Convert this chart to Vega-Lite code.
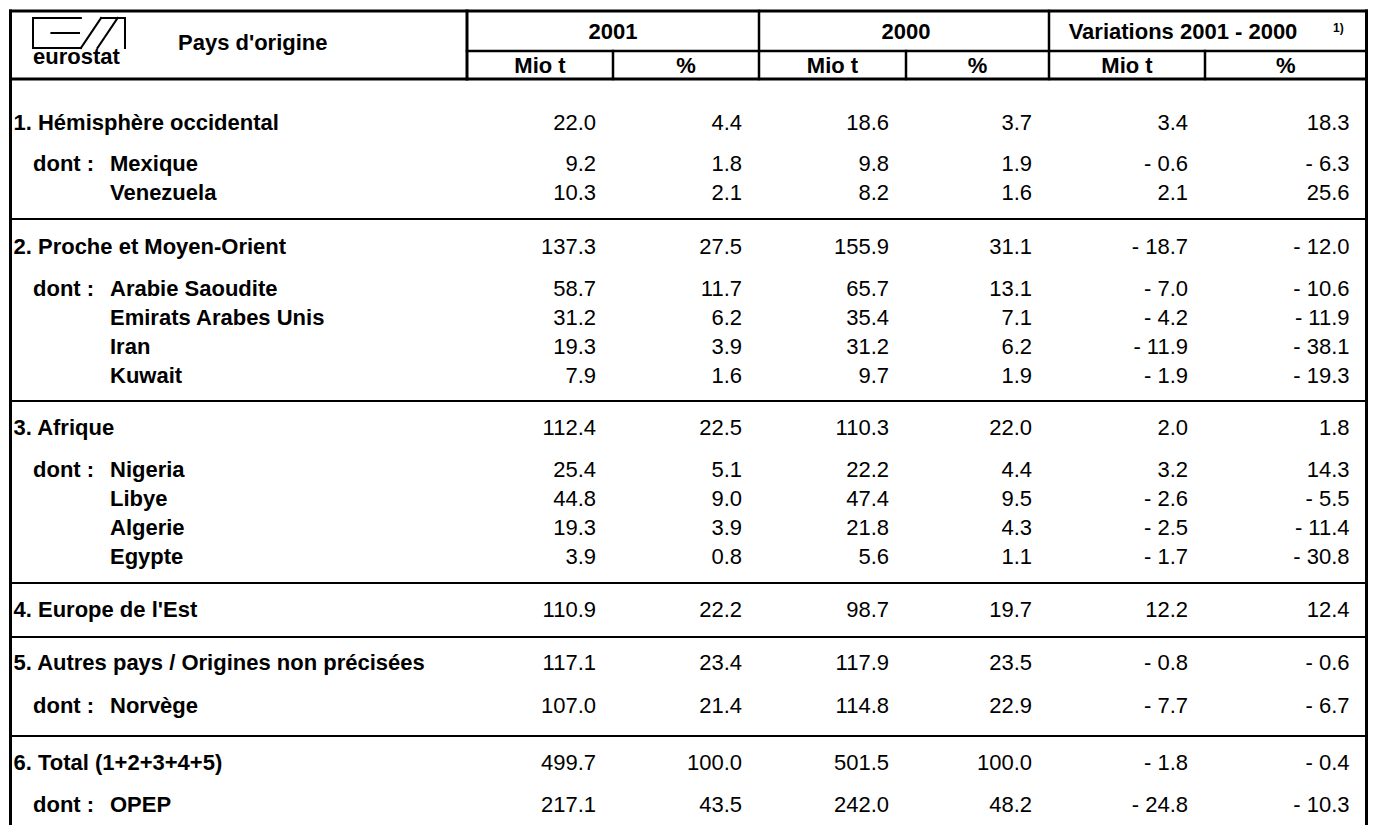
{
  "$schema": "https://vega.github.io/schema/vega-lite/v6.json",
  "width": 1374,
  "height": 825,
  "padding": 0,
  "autosize": {"type": "none"},
  "background": "white",
  "config": {
    "view": {"stroke": null},
    "text": {"font": "Liberation Sans", "fontSize": 22, "color": "black"}
  },
  "datasets": {
    "rows": [
      {"r": 3, "level": "group", "label": "1. Hémisphère occidental", "m2001": "22.0", "p2001": "4.4", "m2000": "18.6", "p2000": "3.7", "mvar": "3.4", "pvar": "18.3"},
      {"r": 4, "level": "sub", "prefix": "dont :", "label": "Mexique", "m2001": "9.2", "p2001": "1.8", "m2000": "9.8", "p2000": "1.9", "mvar": "- 0.6", "pvar": "- 6.3"},
      {"r": 5, "level": "sub", "label": "Venezuela", "m2001": "10.3", "p2001": "2.1", "m2000": "8.2", "p2000": "1.6", "mvar": "2.1", "pvar": "25.6"},
      {"r": 6, "level": "group", "label": "2. Proche et Moyen-Orient", "m2001": "137.3", "p2001": "27.5", "m2000": "155.9", "p2000": "31.1", "mvar": "- 18.7", "pvar": "- 12.0"},
      {"r": 7, "level": "sub", "prefix": "dont :", "label": "Arabie Saoudite", "m2001": "58.7", "p2001": "11.7", "m2000": "65.7", "p2000": "13.1", "mvar": "- 7.0", "pvar": "- 10.6"},
      {"r": 8, "level": "sub", "label": "Emirats Arabes Unis", "m2001": "31.2", "p2001": "6.2", "m2000": "35.4", "p2000": "7.1", "mvar": "- 4.2", "pvar": "- 11.9"},
      {"r": 9, "level": "sub", "label": "Iran", "m2001": "19.3", "p2001": "3.9", "m2000": "31.2", "p2000": "6.2", "mvar": "- 11.9", "pvar": "- 38.1"},
      {"r": 10, "level": "sub", "label": "Kuwait", "m2001": "7.9", "p2001": "1.6", "m2000": "9.7", "p2000": "1.9", "mvar": "- 1.9", "pvar": "- 19.3"},
      {"r": 11, "level": "group", "label": "3. Afrique", "m2001": "112.4", "p2001": "22.5", "m2000": "110.3", "p2000": "22.0", "mvar": "2.0", "pvar": "1.8"},
      {"r": 12, "level": "sub", "prefix": "dont :", "label": "Nigeria", "m2001": "25.4", "p2001": "5.1", "m2000": "22.2", "p2000": "4.4", "mvar": "3.2", "pvar": "14.3"},
      {"r": 13, "level": "sub", "label": "Libye", "m2001": "44.8", "p2001": "9.0", "m2000": "47.4", "p2000": "9.5", "mvar": "- 2.6", "pvar": "- 5.5"},
      {"r": 14, "level": "sub", "label": "Algerie", "m2001": "19.3", "p2001": "3.9", "m2000": "21.8", "p2000": "4.3", "mvar": "- 2.5", "pvar": "- 11.4"},
      {"r": 15, "level": "sub", "label": "Egypte", "m2001": "3.9", "p2001": "0.8", "m2000": "5.6", "p2000": "1.1", "mvar": "- 1.7", "pvar": "- 30.8"},
      {"r": 16, "level": "group", "label": "4. Europe de l'Est", "m2001": "110.9", "p2001": "22.2", "m2000": "98.7", "p2000": "19.7", "mvar": "12.2", "pvar": "12.4"},
      {"r": 17, "level": "group", "label": "5. Autres pays / Origines non précisées", "m2001": "117.1", "p2001": "23.4", "m2000": "117.9", "p2000": "23.5", "mvar": "- 0.8", "pvar": "- 0.6"},
      {"r": 18, "level": "sub", "prefix": "dont :", "label": "Norvège", "m2001": "107.0", "p2001": "21.4", "m2000": "114.8", "p2000": "22.9", "mvar": "- 7.7", "pvar": "- 6.7"},
      {"r": 19, "level": "group", "label": "6. Total (1+2+3+4+5)", "m2001": "499.7", "p2001": "100.0", "m2000": "501.5", "p2000": "100.0", "mvar": "- 1.8", "pvar": "- 0.4"},
      {"r": 20, "level": "sub", "prefix": "dont :", "label": "OPEP", "m2001": "217.1", "p2001": "43.5", "m2000": "242.0", "p2000": "48.2", "mvar": "- 24.8", "pvar": "- 10.3"}
    ],
    "cols": [
      {"key": "m2001", "b": 2},
      {"key": "p2001", "b": 3},
      {"key": "m2000", "b": 4},
      {"key": "p2000", "b": 5},
      {"key": "mvar", "b": 6},
      {"key": "pvar", "b": 7}
    ],
    "head": [
      {"t": "2001", "b": 2, "r": 0.5},
      {"t": "2000", "b": 4, "r": 0.5},
      {"t": "Mio t", "b": 1.5, "r": 1.5},
      {"t": "%", "b": 2.5, "r": 1.5},
      {"t": "Mio t", "b": 3.5, "r": 1.5},
      {"t": "%", "b": 4.5, "r": 1.5},
      {"t": "Mio t", "b": 5.5, "r": 1.5},
      {"t": "%", "b": 6.5, "r": 1.5}
    ],
    "grid": [
      {"b": 0, "b2": 7, "r": 0, "r2": 0, "w": "thick"},
      {"b": 0, "b2": 0, "r": 0, "r2": 21, "w": "thick"},
      {"b": 7, "b2": 7, "r": 0, "r2": 21, "w": "thick"},
      {"b": 1, "b2": 7, "r": 1, "r2": 1, "w": "medium"},
      {"b": 0, "b2": 7, "r": 2, "r2": 2, "w": "thick"},
      {"b": 1, "b2": 1, "r": 0, "r2": 2, "w": "thick"},
      {"b": 2, "b2": 2, "r": 1, "r2": 2, "w": "medium"},
      {"b": 3, "b2": 3, "r": 0, "r2": 2, "w": "medium"},
      {"b": 4, "b2": 4, "r": 1, "r2": 2, "w": "medium"},
      {"b": 5, "b2": 5, "r": 0, "r2": 2, "w": "medium"},
      {"b": 6, "b2": 6, "r": 1, "r2": 2, "w": "medium"},
      {"b": 0, "b2": 7, "r": 5.5, "r2": 5.5, "w": "thin"},
      {"b": 0, "b2": 7, "r": 10.5, "r2": 10.5, "w": "thin"},
      {"b": 0, "b2": 7, "r": 15.5, "r2": 15.5, "w": "thin"},
      {"b": 0, "b2": 7, "r": 16.5, "r2": 16.5, "w": "thin"},
      {"b": 0, "b2": 7, "r": 18.5, "r2": 18.5, "w": "thin"}
    ],
    "logo": [
      {"u": 0, "u2": 0.52, "v": 0, "v2": 0},
      {"u": 0, "u2": 0, "v": 0, "v2": 1},
      {"u": 0, "u2": 0.52, "v": 1, "v2": 1},
      {"u": 0.2, "u2": 0.5, "v": 0.5, "v2": 0.5},
      {"u": 0.52, "u2": 0.74, "v": 1, "v2": 0},
      {"u": 0.7, "u2": 0.92, "v": 1, "v2": 0},
      {"u": 0.74, "u2": 1, "v": 0, "v2": 0},
      {"u": 1, "u2": 1, "v": 0, "v2": 1}
    ]
  },
  "layer": [
    {
      "layer": [
        {
          "data": {"name": "grid"},
          "mark": {"type": "rule", "color": "black", "strokeCap": "square"},
          "encoding": {
            "x": {"field": "b", "type": "quantitative", "axis": null, "scale": {"domain": [0, 1, 2, 3, 4, 5, 6, 7], "range": [10.5, 467, 613, 759, 906, 1049, 1205, 1366.5], "nice": false, "zero": false}},
            "x2": {"field": "b2"},
            "y": {"field": "r", "type": "quantitative", "axis": null, "scale": {"domain": [0, 0.5, 1, 1.5, 2, 3, 4, 5, 5.5, 6, 7, 8, 9, 10, 10.5, 11, 12, 13, 14, 15, 15.5, 16, 16.5, 17, 18, 18.5, 19, 20, 21], "range": [11, 32, 51, 66, 79, 123, 164, 193, 219, 247, 289, 318, 347, 376, 401, 428, 470, 499, 528, 557, 583, 610, 637, 663, 706, 736, 763, 805, 840], "nice": false, "zero": false}},
            "y2": {"field": "r2"},
            "strokeWidth": {"field": "w", "type": "nominal", "legend": null, "scale": {"domain": ["thick", "medium", "thin"], "range": [3, 2, 1]}}
          }
        },
        {
          "data": {"name": "rows"},
          "transform": [
            {"fold": ["m2001", "p2001", "m2000", "p2000", "mvar", "pvar"], "as": ["key", "value"]},
            {"lookup": "key", "from": {"data": {"name": "cols"}, "key": "key", "fields": ["b"]}}
          ],
          "mark": {"type": "text", "align": "right", "baseline": "middle", "dx": -17, "fontSize": 22},
          "encoding": {
            "x": {"field": "b", "type": "quantitative", "axis": null},
            "y": {"field": "r", "type": "quantitative", "axis": null},
            "text": {"field": "value", "type": "nominal"}
          }
        },
        {
          "data": {"name": "rows"},
          "transform": [{"filter": "datum.level === 'group'"}],
          "mark": {"type": "text", "align": "left", "baseline": "middle", "dx": 3, "fontWeight": "bold", "fontSize": 22},
          "encoding": {
            "x": {"datum": 0, "type": "quantitative", "axis": null},
            "y": {"field": "r", "type": "quantitative", "axis": null},
            "text": {"field": "label", "type": "nominal"}
          }
        },
        {
          "data": {"name": "rows"},
          "transform": [{"filter": "datum.level === 'sub'"}],
          "mark": {"type": "text", "align": "left", "baseline": "middle", "dx": 99.5, "fontWeight": "bold", "fontSize": 22},
          "encoding": {
            "x": {"datum": 0, "type": "quantitative", "axis": null},
            "y": {"field": "r", "type": "quantitative", "axis": null},
            "text": {"field": "label", "type": "nominal"}
          }
        },
        {
          "data": {"name": "rows"},
          "transform": [{"filter": "isValid(datum.prefix)"}],
          "mark": {"type": "text", "align": "left", "baseline": "middle", "dx": 22.5, "fontWeight": "bold", "fontSize": 22},
          "encoding": {
            "x": {"datum": 0, "type": "quantitative", "axis": null},
            "y": {"field": "r", "type": "quantitative", "axis": null},
            "text": {"field": "prefix", "type": "nominal"}
          }
        },
        {
          "data": {"name": "head"},
          "mark": {"type": "text", "align": "center", "baseline": "middle", "fontWeight": "bold", "fontSize": 22},
          "encoding": {
            "x": {"field": "b", "type": "quantitative", "axis": null},
            "y": {"field": "r", "type": "quantitative", "axis": null},
            "text": {"field": "t", "type": "nominal"}
          }
        },
        {
          "data": {"values": [{"t": "Variations 2001 - 2000", "b": 6, "r": 0.5}]},
          "mark": {"type": "text", "align": "center", "baseline": "middle", "dx": -22, "fontWeight": "bold", "fontSize": 22},
          "encoding": {
            "x": {"field": "b", "type": "quantitative", "axis": null},
            "y": {"field": "r", "type": "quantitative", "axis": null},
            "text": {"field": "t", "type": "nominal"}
          }
        },
        {
          "data": {"values": [{"t": "1)", "b": 6, "r": 0.5}]},
          "mark": {"type": "text", "align": "left", "baseline": "middle", "dx": 128, "dy": -4, "fontWeight": "bold", "fontSize": 12},
          "encoding": {
            "x": {"field": "b", "type": "quantitative", "axis": null},
            "y": {"field": "r", "type": "quantitative", "axis": null},
            "text": {"field": "t", "type": "nominal"}
          }
        },
        {
          "data": {"values": [{"t": "Pays d'origine", "b": 0, "r": 1}]},
          "mark": {"type": "text", "align": "left", "baseline": "middle", "dx": 167.5, "dy": -8, "fontWeight": "bold", "fontSize": 22},
          "encoding": {
            "x": {"field": "b", "type": "quantitative", "axis": null},
            "y": {"field": "r", "type": "quantitative", "axis": null},
            "text": {"field": "t", "type": "nominal"}
          }
        }
      ]
    },
    {
      "layer": [
        {
          "data": {"name": "logo"},
          "mark": {"type": "rule", "color": "black", "strokeWidth": 2, "strokeCap": "square"},
          "encoding": {
            "x": {"field": "u", "type": "quantitative", "axis": null, "scale": {"domain": [0, 1], "range": [33, 125], "nice": false, "zero": false}},
            "x2": {"field": "u2"},
            "y": {"field": "v", "type": "quantitative", "axis": null, "scale": {"domain": [0, 1], "range": [18, 48], "nice": false, "zero": false}},
            "y2": {"field": "v2"}
          }
        },
        {
          "data": {"values": [{"t": "eurostat", "u": 0, "v": 1.3}]},
          "mark": {"type": "text", "align": "left", "baseline": "middle", "fontWeight": "bold", "fontSize": 22},
          "encoding": {
            "x": {"field": "u", "type": "quantitative", "axis": null},
            "y": {"field": "v", "type": "quantitative", "axis": null},
            "text": {"field": "t", "type": "nominal"}
          }
        }
      ]
    }
  ],
  "resolve": {"scale": {"x": "independent", "y": "independent"}}
}
